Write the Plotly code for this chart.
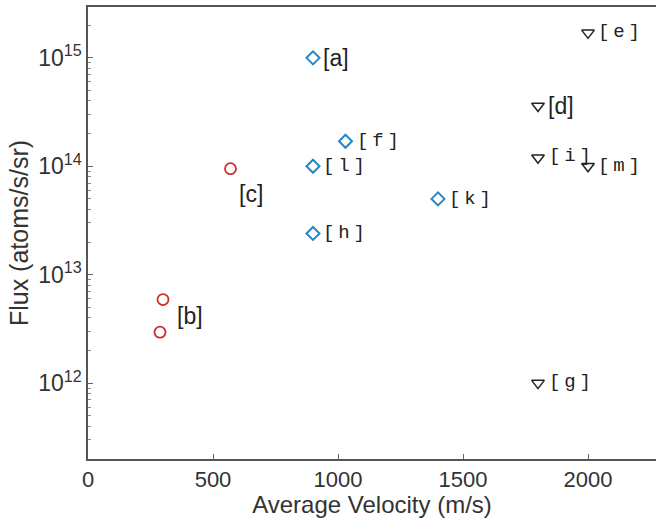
import math
import plotly.graph_objects as go

# Data
circ_x = [570, 300, 288]
circ_y = [9.5e13, 5.9e12, 2.95e12]
diam_x = [900, 1030, 900, 900, 1400]
diam_y = [1.0e15, 1.7e14, 1.0e14, 2.4e13, 5.0e13]
tri_x = [2000, 1800, 1800, 2000, 1800]
tri_y = [1.7e15, 3.6e14, 1.2e14, 1.0e14, 1.0e12]

SP = "\u2009"

labels = [
    # (x, y, text, mono, xshift, yshift)
    (900, 1.0e15, "[a]", False, 8, 0),
    (300, 5.9e12, "[b]", False, 12, -16),
    (570, 9.5e13, "[c]", False, 6, -25),
    (1800, 3.6e14, "[d]", False, 8, 0),
    (2000, 1.7e15, "[" + SP + "e" + SP + "]", True, 8, 1),
    (1030, 1.7e14, "[" + SP + "f" + SP + "]", True, 9, 0),
    (1800, 1.0e12, "[" + SP + "g" + SP + "]", True, 9, 1),
    (900, 2.4e13, "[" + SP + "h" + SP + "]", True, 8, 0),
    (1800, 1.2e14, "[" + SP + "i" + SP + "]", True, 9, 2),
    (1400, 5.0e13, "[" + SP + "k" + SP + "]", True, 9, 0),
    (900, 1.0e14, "[" + SP + "l" + SP + "]", True, 8, 0),
    (2000, 1.0e14, "[" + SP + "m" + SP + "]", True, 8, 0),
]

ytick_vals = [1e12, 1e13, 1e14, 1e15]
ytick_text = ["10<sup>12</sup>", "10<sup>13</sup>", "10<sup>14</sup>", "10<sup>15</sup>"]
xtick_vals = [0, 500, 1000, 1500, 2000]

fig = go.Figure()
fig.add_trace(go.Scatter(x=circ_x, y=circ_y, mode="markers",
                         marker=dict(symbol="circle-open", size=11, color="#cf2e2e", line=dict(width=1.8))))
fig.add_trace(go.Scatter(x=diam_x, y=diam_y, mode="markers",
                         marker=dict(symbol="diamond-open", size=10, color="#2586c4", line=dict(width=2))))
fig.add_trace(go.Scatter(x=tri_x, y=tri_y, mode="markers",
                         marker=dict(symbol="triangle-down-open", size=11, color="#222222", line=dict(width=1.5))))

for x, y, t, mono, xs, ys in labels:
    fig.add_annotation(x=x, y=math.log10(y), xref="x", yref="y", text=t, showarrow=False,
                       xanchor="left", yanchor="middle", xshift=xs, yshift=ys,
                       font=dict(family="Liberation Mono" if mono else "Liberation Sans, Arial",
                                 size=19 if mono else 23, color="#222222"))

fig.update_layout(
    width=656, height=518,
    margin=dict(l=88, r=0, t=7, b=59),
    plot_bgcolor="white", paper_bgcolor="white",
    showlegend=False,
    font=dict(family="Liberation Sans, Arial, sans-serif", size=22, color="#333333"),
)
fig.update_xaxes(range=[0, 2272], tickvals=xtick_vals, ticks="inside", ticklen=5,
                 tickcolor="#666", showline=True, linecolor="#555", linewidth=1.5,
                 mirror=True, showgrid=False, zeroline=False, automargin=False,
                 title=dict(text="Average Velocity (m/s)", standoff=3, font=dict(size=24)),
                 tickfont=dict(size=22))
fig.update_yaxes(type="log", range=[11.3, 15.469], tickvals=ytick_vals, ticktext=ytick_text,
                 ticks="inside", ticklen=5, tickcolor="#666", showline=True, linecolor="#555",
                 linewidth=1.5, showgrid=False, zeroline=False, automargin=False,
                 minor=dict(ticks="inside", ticklen=3, tickcolor="#888", dtick="D1", showgrid=False),
                 title=dict(text="Flux (atoms/s/sr)", standoff=2, font=dict(size=25)),
                 tickfont=dict(size=23))

fig.write_html("out.html", config={"displayModeBar": False},
               post_script="document.body.style.margin='0';document.body.style.padding='0';")
